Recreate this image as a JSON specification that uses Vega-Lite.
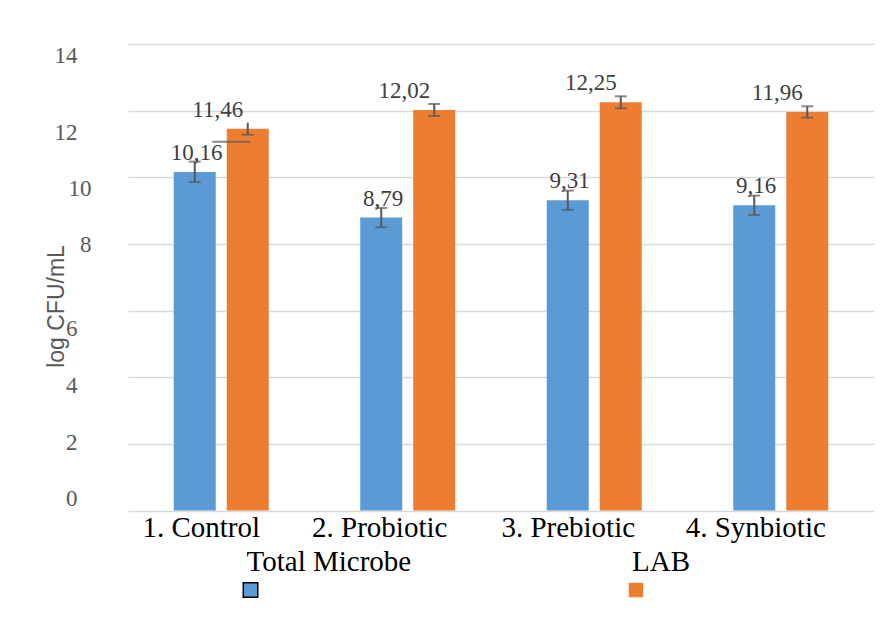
{
  "$schema": "https://vega.github.io/schema/vega-lite/v6.json",
  "background": "white",
  "padding": {"left": 45, "top": 44, "right": 5, "bottom": 5},
  "bounds": "flush",
  "spacing": 39,
  "config": {
    "view": {"stroke": null},
    "axisY": {"labelFont": "Liberation Serif", "labelFontSize": 23, "labelColor": "#595959", "titleFont": "Liberation Sans", "titleFontSize": 23, "titleFontWeight": "normal", "titleColor": "#595959"},
    "axisX": {"labelFont": "Liberation Serif", "labelFontSize": 29, "labelColor": "#000000"}
  },
  "datasets": {
    "bars": [
      {"treatment": "1. Control", "group": "Total Microbe", "value": 10.16, "lo": 9.86, "hi": 10.47, "label": "10,16"},
      {"treatment": "1. Control", "group": "LAB", "value": 11.46, "lo": 11.28, "hi": 11.64, "label": "11,46"},
      {"treatment": "2. Probiotic", "group": "Total Microbe", "value": 8.79, "lo": 8.5, "hi": 9.08, "label": "8,79"},
      {"treatment": "2. Probiotic", "group": "LAB", "value": 12.02, "lo": 11.84, "hi": 12.2, "label": "12,02"},
      {"treatment": "3. Prebiotic", "group": "Total Microbe", "value": 9.31, "lo": 9.02, "hi": 9.6, "label": "9,31"},
      {"treatment": "3. Prebiotic", "group": "LAB", "value": 12.25, "lo": 12.07, "hi": 12.43, "label": "12,25"},
      {"treatment": "4. Synbiotic", "group": "Total Microbe", "value": 9.16, "lo": 8.87, "hi": 9.45, "label": "9,16"},
      {"treatment": "4. Synbiotic", "group": "LAB", "value": 11.96, "lo": 11.79, "hi": 12.13, "label": "11,96"}
    ],
    "caps": [
      {"treatment": "1. Control", "group": "Total Microbe", "value": 10.47},
      {"treatment": "1. Control", "group": "Total Microbe", "value": 9.86},
      {"treatment": "1. Control", "group": "LAB", "value": 11.28},
      {"treatment": "2. Probiotic", "group": "Total Microbe", "value": 9.08},
      {"treatment": "2. Probiotic", "group": "Total Microbe", "value": 8.5},
      {"treatment": "2. Probiotic", "group": "LAB", "value": 12.2},
      {"treatment": "2. Probiotic", "group": "LAB", "value": 11.84},
      {"treatment": "3. Prebiotic", "group": "Total Microbe", "value": 9.6},
      {"treatment": "3. Prebiotic", "group": "Total Microbe", "value": 9.02},
      {"treatment": "3. Prebiotic", "group": "LAB", "value": 12.43},
      {"treatment": "3. Prebiotic", "group": "LAB", "value": 12.07},
      {"treatment": "4. Synbiotic", "group": "Total Microbe", "value": 9.45},
      {"treatment": "4. Synbiotic", "group": "Total Microbe", "value": 8.87},
      {"treatment": "4. Synbiotic", "group": "LAB", "value": 12.13},
      {"treatment": "4. Synbiotic", "group": "LAB", "value": 11.79}
    ],
    "stray": [{"treatment": "1. Control", "value": 11.07}],
    "legend": [{"group": "Total Microbe"}, {"group": "LAB"}]
  },
  "vconcat": [
    {
      "width": 746,
      "height": 466.5,
      "encoding": {
        "x": {
          "field": "treatment", "type": "nominal", "sort": ["1. Control", "2. Probiotic", "3. Prebiotic", "4. Synbiotic"],
          "scale": {"paddingInner": 0, "paddingOuter": 0},
          "axis": {
            "title": null, "domain": false, "ticks": false, "tickSize": 0, "grid": false,
            "labelAngle": 0, "labelFont": "Liberation Serif", "labelFontSize": 29, "labelColor": "#000000",
            "labelPadding": 3,
            "labelOffset": {"condition": [
              {"test": "datum.value === '1. Control'", "value": -20},
              {"test": "datum.value === '2. Probiotic'", "value": -28},
              {"test": "datum.value === '3. Prebiotic'", "value": -26}
            ], "value": -25}
          }
        },
        "y": {
          "field": "value", "type": "quantitative",
          "scale": {"domain": [0, 14], "nice": false, "zero": true},
          "axis": {
            "values": [0, 2, 4, 6, 8, 10, 12, 14],
            "title": "log CFU/mL", "titleFont": "Liberation Sans", "titleFontSize": 23, "titleFontWeight": "normal",
            "titleColor": "#595959", "titleAngle": 270, "titleAlign": "center", "titleBaseline": "alphabetic",
            "titleX": -65, "titleY": 262,
            "domain": false, "ticks": false, "tickSize": 0,
            "grid": true, "gridColor": "#d9d9d9", "gridWidth": 1.5,
            "labelFont": "Liberation Serif", "labelFontSize": 23, "labelColor": "#595959", "labelBaseline": "middle",
            "labelPadding": {"condition": {"test": "datum.value === 10 || datum.value === 8", "value": 37}, "value": 51},
            "labelOffset": {"condition": [
              {"test": "datum.value === 14", "value": 11},
              {"test": "datum.value === 12", "value": 22},
              {"test": "datum.value === 10", "value": 11.5},
              {"test": "datum.value === 8", "value": 1},
              {"test": "datum.value === 6", "value": 17.5},
              {"test": "datum.value === 4", "value": 8.5},
              {"test": "datum.value === 2", "value": -1.5}
            ], "value": -12}
          }
        },
        "xOffset": {"field": "group", "type": "nominal", "sort": ["Total Microbe", "LAB"], "scale": {"paddingInner": 0.2075, "paddingOuter": 0.863}}
      },
      "layer": [
        {
          "data": {"name": "bars"},
          "mark": {"type": "bar"},
          "encoding": {
            "color": {"field": "group", "type": "nominal", "sort": ["Total Microbe", "LAB"], "scale": {"domain": ["Total Microbe", "LAB"], "range": ["#5b9bd5", "#ed7d31"]}, "legend": null}
          }
        },
        {
          "data": {"name": "bars"},
          "mark": {"type": "rule", "color": "#595959", "strokeWidth": 2},
          "encoding": {"y": {"field": "lo", "type": "quantitative"}, "y2": {"field": "hi"}}
        },
        {
          "data": {"name": "caps"},
          "mark": {"type": "tick", "color": "#595959", "size": 12, "thickness": 2},
          "encoding": {}
        },
        {
          "data": {"name": "stray"},
          "mark": {"type": "tick", "color": "#595959", "size": 38, "thickness": 2, "xOffset": 10},
          "encoding": {"xOffset": null}
        },
        {
          "data": {"name": "bars"},
          "transform": [{"filter": "datum.group === 'Total Microbe'"}],
          "mark": {"type": "text", "font": "Liberation Serif", "fontSize": 23, "color": "#404040", "baseline": "alphabetic", "dy": -12, "dx": 2},
          "encoding": {"text": {"field": "label"}}
        },
        {
          "data": {"name": "bars"},
          "transform": [{"filter": "datum.group === 'LAB'"}],
          "mark": {"type": "text", "font": "Liberation Serif", "fontSize": 23, "color": "#404040", "baseline": "alphabetic", "dy": -12, "dx": -30},
          "encoding": {"text": {"field": "label"}}
        }
      ]
    },
    {
      "width": 630.5,
      "height": 60,
      "data": {"name": "legend"},
      "encoding": {
        "x": {"field": "group", "type": "nominal", "sort": ["Total Microbe", "LAB"], "scale": {"type": "point", "padding": 0.3178}, "axis": null}
      },
      "layer": [
        {
          "mark": {"type": "text", "align": "left", "baseline": "alphabetic", "dx": -4, "dy": -8.7, "font": "Liberation Serif", "fontSize": 29, "color": "#000000"},
          "encoding": {"text": {"field": "group"}}
        },
        {
          "mark": {"type": "point", "shape": "square", "filled": true, "size": 210, "yOffset": 10, "opacity": 1, "stroke": "#000000"},
          "encoding": {
            "color": {"field": "group", "type": "nominal", "scale": {"domain": ["Total Microbe", "LAB"], "range": ["#5b9bd5", "#ed7d31"]}, "legend": null},
            "strokeWidth": {"condition": {"test": "datum.group === 'Total Microbe'", "value": 1.5}, "value": 0}
          }
        }
      ]
    }
  ]
}
